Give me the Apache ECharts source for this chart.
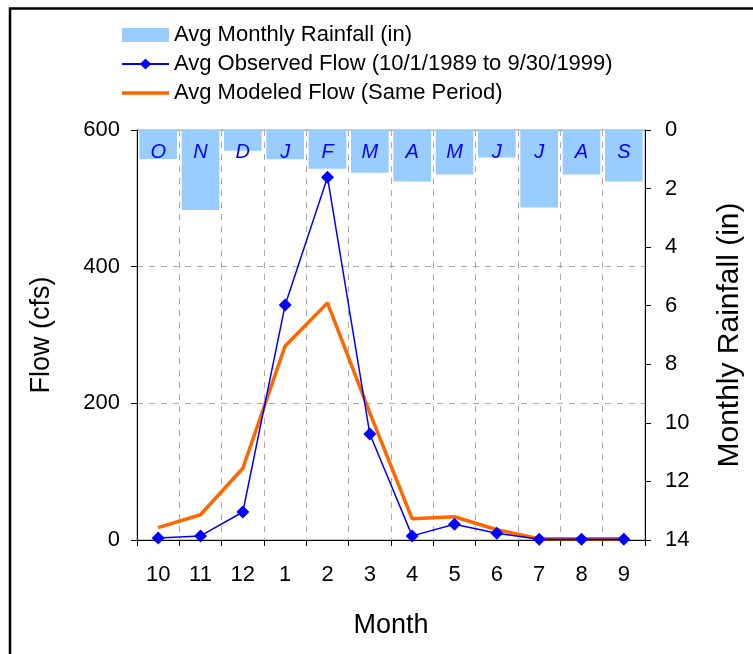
<!DOCTYPE html>
<html>
<head>
<meta charset="utf-8">
<script src="https://cdn.jsdelivr.net/npm/echarts@6/dist/echarts.min.js"></script>
<style>html,body{margin:0;padding:0;background:#fff}#c{width:753px;height:654px}</style>
</head>
<body>
<div id="c"></div>
<script>
const months = ['10','11','12','1','2','3','4','5','6','7','8','9'];
const monthLetters = ['O','N','D','J','F','M','A','M','J','J','A','S'];
const rainfall = [0.99, 2.73, 0.71, 1.0, 1.32, 1.46, 1.76, 1.52, 0.94, 2.65, 1.52, 1.76];
const observedFlow = [3, 6, 41, 344, 531, 155, 6, 23, 10, 1, 1, 1];
const modeledFlow = [18, 37, 105, 284, 347, 186, 31, 34, 15, 2, 2, 2];
const flowTicks = {min: 0, max: 600, interval: 200};
const rainTicks = {min: 0, max: 14, interval: 2};

const font = 'Liberation Sans, Arial, sans-serif';
const chart = echarts.init(document.getElementById('c'));
chart.setOption({
  animation: false,
  textStyle: {fontFamily: font},
  graphic: [{
    type: 'rect', left: 7.5, top: 6, silent: true,
    shape: {x: 0, y: 0, width: 800, height: 700},
    style: {fill: 'none', stroke: '#000', lineWidth: 2.5}
  }],
  legend: {
    orient: 'vertical', left: 116, top: 19,
    itemWidth: 47, itemHeight: 14, itemGap: 7,
    symbolKeepAspect: true,
    textStyle: {fontSize: 22, color: '#000', fontFamily: font},
    data: [
      {name: 'Avg Monthly Rainfall (in)', icon: 'rect'},
      {name: 'Avg Observed Flow (10/1/1989 to 9/30/1999)'},
      {name: 'Avg Modeled Flow (Same Period)', icon: 'path://M0,0L47,0L47,3.5L0,3.5Z'}
    ]
  },
  grid: {left: 137, right: 107, top: 130, bottom: 114, show: true, borderColor: '#999', borderWidth: 1},
  xAxis: {
    type: 'category', data: months, boundaryGap: true,
    name: 'Month', nameLocation: 'middle', nameGap: 72,
    nameTextStyle: {fontSize: 27, color: '#000', fontFamily: font},
    axisLine: {lineStyle: {color: '#000', width: 1}},
    axisTick: {show: true, interval: 0, length: 6, lineStyle: {color: '#000'}},
    axisLabel: {fontSize: 22, color: '#000', margin: 24, interval: 0, fontFamily: font},
    splitLine: {show: true, interval: 0, lineStyle: {color: '#aaa', type: [6, 6], width: 1}}
  },
  yAxis: [{
    type: 'value', min: flowTicks.min, max: flowTicks.max, interval: flowTicks.interval,
    name: 'Flow (cfs)', nameLocation: 'middle', nameGap: 82,
    nameTextStyle: {fontSize: 27, color: '#000', fontFamily: font},
    axisLine: {show: true, lineStyle: {color: '#000', width: 1}},
    axisTick: {show: true, length: 6, lineStyle: {color: '#000'}},
    axisLabel: {fontSize: 22, color: '#000', margin: 17, fontFamily: font},
    splitLine: {show: true, lineStyle: {color: '#aaa', type: [6, 6], width: 1}}
  }, {
    type: 'value', position: 'right', inverse: true,
    min: rainTicks.min, max: rainTicks.max, interval: rainTicks.interval,
    name: 'Monthly Rainfall (in)', nameLocation: 'middle', nameGap: 70,
    nameTextStyle: {fontSize: 30, color: '#000', fontFamily: font},
    axisLine: {show: true, lineStyle: {color: '#000', width: 1}},
    axisTick: {show: true, length: 6, lineStyle: {color: '#000'}},
    axisLabel: {fontSize: 22, color: '#000', margin: 20, fontFamily: font},
    splitLine: {show: false}
  }],
  series: [{
    name: 'Avg Monthly Rainfall (in)', type: 'bar', yAxisIndex: 1,
    data: rainfall, barCategoryGap: '11%',
    itemStyle: {color: '#99CCFF'},
    label: {
      show: true, position: 'insideTop', distance: 12,
      formatter: p => monthLetters[p.dataIndex],
      fontSize: 20, fontStyle: 'italic', color: '#0000FF', fontFamily: font
    },
    z: 1
  }, {
    name: 'Avg Modeled Flow (Same Period)', type: 'line', yAxisIndex: 0,
    data: modeledFlow, symbol: 'none',
    lineStyle: {color: '#FF6600', width: 3.5},
    itemStyle: {color: '#FF6600'}, z: 3
  }, {
    name: 'Avg Observed Flow (10/1/1989 to 9/30/1999)', type: 'line', yAxisIndex: 0,
    data: observedFlow, symbol: 'diamond', symbolSize: 13,
    lineStyle: {color: '#0000FF', width: 1.5},
    itemStyle: {color: '#0000FF'}, z: 4
  }]
});
</script>
</body>
</html>
